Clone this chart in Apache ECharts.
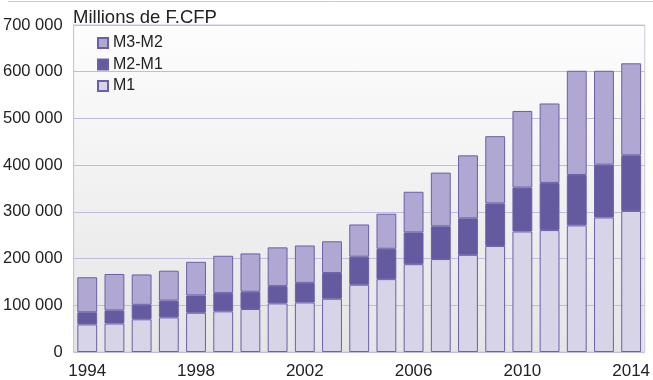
<!DOCTYPE html>
<html>
<head>
<meta charset="utf-8">
<script src="https://cdn.jsdelivr.net/npm/echarts@6/dist/echarts.min.js"></script>
<style>
  html, body { margin: 0; padding: 0; background: #ffffff; }
  #chart { width: 653px; height: 380px; }
</style>
</head>
<body>
<div id="chart"></div>
<script>
// Monetary aggregates, millions of F.CFP
const years = ['1994','1995','1996','1997','1998','1999','2000','2001','2002','2003','2004',
               '2005','2006','2007','2008','2009','2010','2011','2012','2013','2014'];
const m1   = [59, 61, 70, 74, 84, 87, 92, 104, 106, 114, 144, 156, 188, 199, 208, 227, 258, 261, 271, 288, 302];
const m2m1 = [26, 28, 31, 36, 37, 39, 37, 37, 42, 55, 60, 65, 68, 70, 78, 91, 94, 101, 108, 113, 119];
const m3m2 = [75, 78, 65, 64, 72, 80, 82, 83, 80, 68, 69, 75, 87, 115, 135, 144, 164, 170, 223, 201, 197];
const yTicks = [0, 100000, 200000, 300000, 400000, 500000, 600000, 700000];

const toUnits = arr => arr.map(v => v * 1000);
const FONT = '"Liberation Sans Narrow", "Arial Narrow", "Liberation Sans", sans-serif';
const BORDER = '#6a5fa8';

const chart = echarts.init(document.getElementById('chart'), null, { renderer: 'canvas' });

function bar(name, data, color) {
  return {
    name: name,
    type: 'bar',
    stack: 'total',
    data: toUnits(data),
    barCategoryGap: '27%',
    itemStyle: { color: color, borderColor: BORDER, borderWidth: 1 }
  };
}

chart.setOption({
  animation: false,
  backgroundColor: '#ffffff',
  title: {
    text: 'Millions de F.CFP',
    left: 68,
    top: 3,
    textStyle: { fontFamily: FONT, fontSize: 18.5, fontWeight: 'normal', color: '#222222' }
  },
  legend: {
    orient: 'vertical',
    left: 92,
    top: 30,
    itemWidth: 10,
    itemHeight: 10,
    itemGap: 5.5,
    icon: 'rect',
    data: ['M3-M2', 'M2-M1', 'M1'],
    textStyle: { fontFamily: FONT, fontSize: 16, lineHeight: 16, color: '#222222', padding: [0, 0, 0, 0] }
  },
  grid: {
    left: 73,
    right: 6,
    top: 25,
    bottom: 27,
    show: true,
    borderColor: '#cdc8de',
    borderWidth: 1,
    backgroundColor: new echarts.graphic.LinearGradient(0, 0, 0, 1, [
      { offset: 0, color: '#fdfdfd' },
      { offset: 1, color: '#e5e5e6' }
    ])
  },
  xAxis: {
    type: 'category',
    data: years,
    axisLine: { show: false },
    axisTick: { show: false },
    axisLabel: {
      interval: 3,
      margin: 11,
      fontFamily: FONT,
      fontSize: 17,
      color: '#222222'
    }
  },
  yAxis: {
    type: 'value',
    min: 0,
    max: 700000,
    interval: 100000,
    axisLine: { show: true, lineStyle: { color: '#c8c2de', width: 1 } },
    axisTick: { show: false },
    splitLine: { lineStyle: { color: '#c3bbde', width: 1 } },
    axisLabel: {
      margin: 11,
      fontFamily: FONT,
      fontSize: 16.5,
      color: '#222222',
      formatter: v => yTicks.includes(v) ? String(v).replace(/\B(?=(\d{3})+(?!\d))/g, ' ') : ''
    }
  },
  graphic: [{
    type: 'line',
    shape: { x1: 8, y1: 1.5, x2: 653, y2: 1.5 },
    style: { stroke: '#cdc8de', lineWidth: 1 }
  }],
  series: [
    bar('M1', m1, '#d8d4e8'),
    bar('M2-M1', m2m1, '#635a9f'),
    bar('M3-M2', m3m2, '#b0a8d2')
  ]
});
</script>
</body>
</html>
